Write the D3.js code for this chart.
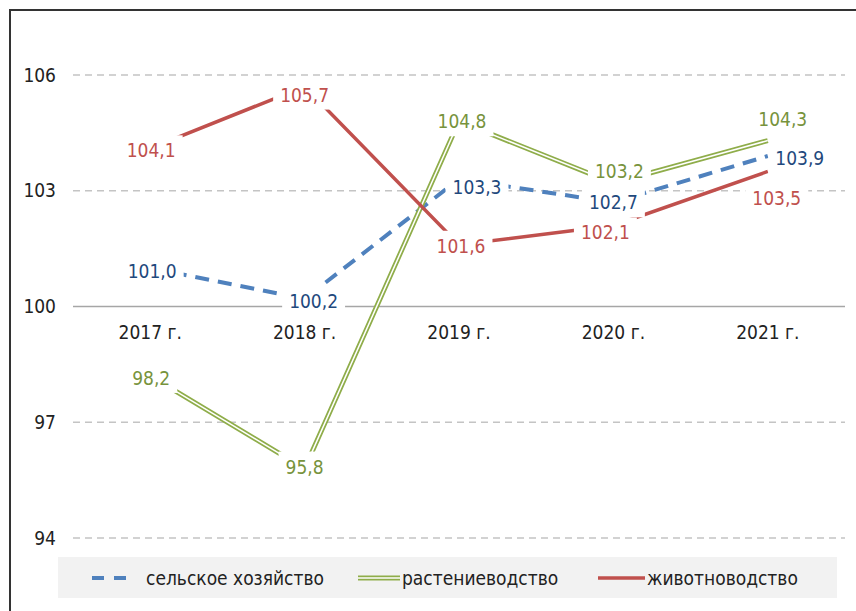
<!DOCTYPE html>
<html>
<head>
<meta charset="utf-8">
<script src="https://cdn.jsdelivr.net/npm/d3@7"></script>
<style>
  body { margin: 0; background: #fff; }
  text { font-family: "Liberation Sans Narrow", "DejaVu Sans Condensed", "Roboto", sans-serif; }
</style>
</head>
<body>
<svg id="chart"></svg>
<script>
// данные
const years = ["2017 г.", "2018 г.", "2019 г.", "2020 г.", "2021 г."];
const agriculture = [101.0, 100.2, 103.3, 102.7, 103.9];
const crops = [98.2, 95.8, 104.8, 103.2, 104.3];
const livestock = [104.1, 105.7, 101.6, 102.1, 103.5];
const yTicks = [94, 97, 100, 103, 106];
const seriesNames = ["сельское хозяйство", "растениеводство", "животноводство"];

let width = 856,
    height = 611,
    plotLeft = 73,
    plotRight = 845,
    plotTop = 75,
    plotBottom = 538;

let fontSize = 19;

let svg = d3.select("#chart").attr("width", width).attr("height", height);

let x = d3.scaleBand().domain(years).range([plotLeft, plotRight]).padding(0);
let y = d3.scaleLinear().domain([94, 106]).range([plotBottom, plotTop]);
let cx = function (d) { return x(d) + x.bandwidth() / 2; };

// рамка
svg.append("rect")
    .attr("x", 10).attr("y", 10)
    .attr("width", width + 20).attr("height", height + 20)
    .attr("fill", "none")
    .attr("stroke", "#333").attr("stroke-width", 2);

// сетка
svg.append("g")
    .selectAll("line")
    .data(yTicks.filter(function (d) { return d != 100; }))
    .enter().append("line")
    .attr("x1", plotLeft).attr("x2", plotRight)
    .attr("y1", function (d) { return y(d); })
    .attr("y2", function (d) { return y(d); })
    .attr("stroke", "#c4c4c4")
    .attr("stroke-width", 1.5)
    .attr("stroke-dasharray", "7,5");

// ось на уровне 100
svg.append("line")
    .attr("x1", plotLeft).attr("x2", plotRight)
    .attr("y1", y(100)).attr("y2", y(100))
    .attr("stroke", "#a6a6a6").attr("stroke-width", 1.5);

// подписи оси Y
let yAxis = svg.append("g")
    .attr("transform", "translate(56,0)")
    .call(d3.axisLeft(y).tickValues(yTicks).tickSize(0).tickPadding(0));
yAxis.select(".domain").remove();
yAxis.selectAll("text")
    .attr("font-size", fontSize)
    .attr("font-family", null)
    .attr("fill", "#222");

// подписи категорий
let xAxis = svg.append("g")
    .attr("transform", "translate(0," + (y(100) + 19) + ")")
    .call(d3.axisBottom(x).tickSize(0).tickPadding(0));
xAxis.select(".domain").remove();
xAxis.selectAll("text")
    .attr("font-size", fontSize)
    .attr("font-family", null)
    .attr("fill", "#222");

let line = d3.line()
    .x(function (d, i) { return cx(years[i]); })
    .y(function (d) { return y(d); });

// сельское хозяйство - пунктир
svg.append("path")
    .attr("d", line(agriculture))
    .attr("fill", "none")
    .attr("stroke", "#4f81bd")
    .attr("stroke-width", 4)
    .attr("stroke-dasharray", "14,9");

// растениеводство - двойная линия
svg.append("path")
    .attr("d", line(crops))
    .attr("fill", "none")
    .attr("stroke", "#8fad4a")
    .attr("stroke-width", 5);
svg.append("path")
    .attr("d", line(crops))
    .attr("fill", "none")
    .attr("stroke", "#fff")
    .attr("stroke-width", 1.5);

// животноводство
svg.append("path")
    .attr("d", line(livestock))
    .attr("fill", "none")
    .attr("stroke", "#c0504d")
    .attr("stroke-width", 3.5);

// подписи данных (смещения от точки)
let labelSets = [
    { values: agriculture, color: "#1f497d", dx: [2, 9, 18, 0, 32], dy: [3, 2, 8, 0, 2] },
    { values: crops, color: "#77933c", dx: [1, 0, 3, 6, 15], dy: [2, -2, 0, -12, -22] },
    { values: livestock, color: "#c0504d", dx: [1, 0, 2, -8, 9], dy: [2, 8, 1, 7, 27] }
];

labelSets.forEach(function (s) {
    let g = svg.append("g");
    s.values.forEach(function (v, i) {
        let px = cx(years[i]) + s.dx[i],
            py = y(v) + s.dy[i];
        let bg = g.append("rect").attr("fill", "#fff");
        let t = g.append("text")
            .attr("x", px).attr("y", py)
            .attr("text-anchor", "middle")
            .attr("dominant-baseline", "central")
            .attr("font-size", fontSize)
            .attr("fill", s.color)
            .text(d3.format(".1f")(v).replace(".", ","));
        let b = t.node().getBBox();
        bg.attr("x", b.x - 7).attr("y", py - 15)
            .attr("width", b.width + 14).attr("height", 30);
    });
});

// легенда
let legend = svg.append("g");
legend.append("rect")
    .attr("x", 58).attr("y", 557)
    .attr("width", 779).attr("height", 41)
    .attr("fill", "#f2f2f2");

let ly = 578;
legend.append("line")
    .attr("x1", 92).attr("x2", 130).attr("y1", ly).attr("y2", ly)
    .attr("stroke", "#4f81bd").attr("stroke-width", 4)
    .attr("stroke-dasharray", "12,10");
legend.append("line")
    .attr("x1", 358).attr("x2", 400).attr("y1", ly).attr("y2", ly)
    .attr("stroke", "#8fad4a").attr("stroke-width", 5);
legend.append("line")
    .attr("x1", 358).attr("x2", 400).attr("y1", ly).attr("y2", ly)
    .attr("stroke", "#fff").attr("stroke-width", 1.5);
legend.append("line")
    .attr("x1", 598).attr("x2", 645).attr("y1", ly).attr("y2", ly)
    .attr("stroke", "#c0504d").attr("stroke-width", 3.5);

let legendX = [146, 402, 647];
legend.selectAll("text")
    .data(seriesNames)
    .enter().append("text")
    .attr("x", function (d, i) { return legendX[i]; })
    .attr("y", ly)
    .attr("dominant-baseline", "central")
    .attr("font-size", fontSize)
    .attr("fill", "#222")
    .text(function (d) { return d; });
</script>
</body>
</html>
